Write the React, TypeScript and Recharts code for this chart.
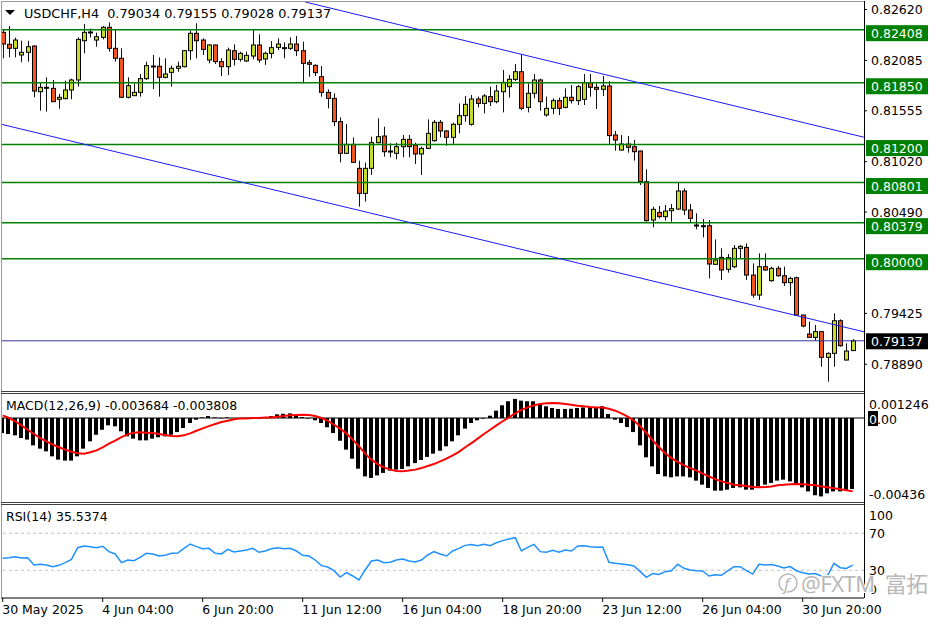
import { ComposedChart, Bar, Line, XAxis, YAxis, ReferenceLine } from "recharts";

const FONT = "'DejaVu Sans', Verdana, sans-serif";
const FS = 12.5;
const BULL = "#c8dc2c";
const BEAR = "#f2561c";
const LEVEL_GREEN = "#008000";
const BID_COLOR = "#31379b";
const TREND_BLUE = "#1a1aff";

// USDCHF H4, one entry per bar
const opens = [
  0.8238, 0.82254, 0.82212, 0.82142, 0.8217, 0.82236, 0.81756, 0.81802, 0.81791, 0.81676,
  0.81683, 0.81774, 0.81879, 0.82292, 0.8238, 0.82299, 0.82327, 0.82433, 0.82212, 0.82107,
  0.81697, 0.81714, 0.81749, 0.81893, 0.82023, 0.82023, 0.81907, 0.81959, 0.82002, 0.82019,
  0.82187, 0.8237, 0.82299, 0.82089, 0.82247, 0.82072, 0.82019, 0.82187, 0.82096, 0.82079,
  0.82131, 0.82247, 0.821, 0.82159, 0.82222, 0.82219, 0.82212, 0.82257, 0.82187, 0.82061,
  0.82033, 0.81914, 0.81749, 0.81686, 0.81441, 0.81108, 0.81202, 0.8095, 0.80687, 0.8095,
  0.8122, 0.8129, 0.81132, 0.81108, 0.81178, 0.81255, 0.81195, 0.81101, 0.8116, 0.81241,
  0.81434, 0.81343, 0.81276, 0.81413, 0.81504, 0.81413, 0.81679, 0.81633, 0.81704, 0.81651,
  0.81756, 0.81809, 0.81886, 0.81966, 0.81591, 0.81739, 0.81879, 0.81511, 0.81581, 0.81662,
  0.81591, 0.81697, 0.81662, 0.81676, 0.81851, 0.81802, 0.81781, 0.81816, 0.81301, 0.81143,
  0.81206, 0.81178, 0.81132, 0.8081, 0.80407, 0.80487, 0.80442, 0.80505, 0.80522, 0.80712,
  0.80512, 0.80354, 0.80347, 0.80347, 0.79941, 0.80014, 0.79888, 0.79916, 0.80109, 0.80119,
  0.79828, 0.79618, 0.79916, 0.79769, 0.79899, 0.79821, 0.79748, 0.798, 0.79408, 0.79208,
  0.79173, 0.79233, 0.78963, 0.79005, 0.79348, 0.78935, 0.79034,
];
const highs = [
  0.82405, 0.82447, 0.82324, 0.82292, 0.82292, 0.82243, 0.81854, 0.81907, 0.81879, 0.81732,
  0.81872, 0.81893, 0.82327, 0.82468, 0.82419, 0.82377, 0.82447, 0.82485, 0.82405, 0.82212,
  0.81907, 0.81844, 0.81942, 0.82072, 0.82142, 0.82117, 0.82107, 0.8203, 0.82072, 0.82194,
  0.82398, 0.82475, 0.82317, 0.82257, 0.8225, 0.82107, 0.82219, 0.82254, 0.82177, 0.82177,
  0.82412, 0.82359, 0.82177, 0.82289, 0.82317, 0.82275, 0.82327, 0.82342, 0.82282, 0.82089,
  0.82044, 0.82026, 0.81781, 0.81739, 0.81486, 0.81416, 0.81276, 0.81031, 0.8101, 0.81283,
  0.81476, 0.81388, 0.81213, 0.8122, 0.81301, 0.81301, 0.8122, 0.81178, 0.81465, 0.81458,
  0.81458, 0.81353, 0.8143, 0.81633, 0.81711, 0.81721, 0.81704, 0.81732, 0.81809, 0.81826,
  0.81984, 0.81931, 0.82047, 0.82149, 0.81844, 0.81942, 0.81893, 0.81704, 0.81686, 0.81693,
  0.81791, 0.81826, 0.81826, 0.81942, 0.81942, 0.81844, 0.81921, 0.81868, 0.81343, 0.81301,
  0.8129, 0.81248, 0.81136, 0.8094, 0.80547, 0.80554, 0.80564, 0.80575, 0.80799, 0.8074,
  0.80575, 0.80477, 0.80417, 0.80407, 0.80203, 0.80109, 0.80049, 0.80144, 0.80144, 0.80161,
  0.79951, 0.80056, 0.80056, 0.79916, 0.79923, 0.79916, 0.79811, 0.79811, 0.7941, 0.79338,
  0.79303, 0.7924, 0.79015, 0.79425, 0.79362, 0.7911, 0.79155,
];
const lows = [
  0.82107, 0.82117, 0.82117, 0.82065, 0.82072, 0.81697, 0.81556, 0.81546, 0.81648, 0.81577,
  0.81676, 0.81676, 0.81809, 0.82159, 0.82327, 0.82229, 0.82306, 0.82177, 0.82072, 0.81693,
  0.81686, 0.81711, 0.81704, 0.81879, 0.81784, 0.81704, 0.81896, 0.81809, 0.81966, 0.82012,
  0.82089, 0.82107, 0.82142, 0.82054, 0.82047, 0.81921, 0.81931, 0.8203, 0.82072, 0.82068,
  0.82096, 0.82061, 0.82037, 0.82107, 0.82194, 0.82107, 0.82194, 0.82131, 0.81844, 0.81914,
  0.81921, 0.81704, 0.81581, 0.81395, 0.81013, 0.81101, 0.8101, 0.80547, 0.806, 0.8088,
  0.81213, 0.81073, 0.81066, 0.81045, 0.81066, 0.81066, 0.80996, 0.8088, 0.81153, 0.8123,
  0.81276, 0.81188, 0.81206, 0.81318, 0.81441, 0.81399, 0.81591, 0.81528, 0.81605, 0.81633,
  0.81539, 0.81693, 0.81868, 0.81563, 0.81539, 0.81686, 0.81556, 0.81493, 0.81521, 0.81511,
  0.81581, 0.81633, 0.81616, 0.81616, 0.81704, 0.81574, 0.81711, 0.81206, 0.81136, 0.81136,
  0.81115, 0.81031, 0.80775, 0.80389, 0.8033, 0.80424, 0.804, 0.80389, 0.80512, 0.80459,
  0.80382, 0.80309, 0.80224, 0.79793, 0.79934, 0.79776, 0.79853, 0.79899, 0.80004, 0.79776,
  0.7959, 0.79566, 0.79874, 0.79758, 0.79811, 0.79713, 0.79611, 0.79397, 0.79278, 0.79169,
  0.79138, 0.78865, 0.78707, 0.78865, 0.79075, 0.78928, 0.79028,
];
const closes = [
  0.82257, 0.82212, 0.82299, 0.8217, 0.82229, 0.81763, 0.81802, 0.81795, 0.81651, 0.81697,
  0.81774, 0.81879, 0.82306, 0.8238, 0.82384, 0.82334, 0.82433, 0.82212, 0.82107, 0.81697,
  0.81819, 0.81749, 0.81893, 0.8203, 0.82026, 0.81907, 0.81942, 0.82002, 0.82023, 0.82187,
  0.8237, 0.82292, 0.82201, 0.82247, 0.82072, 0.82019, 0.82194, 0.82096, 0.82159, 0.82138,
  0.82247, 0.82089, 0.82159, 0.82219, 0.82257, 0.82215, 0.82257, 0.82187, 0.82054, 0.82044,
  0.81956, 0.81749, 0.81686, 0.81441, 0.81108, 0.81202, 0.81013, 0.80687, 0.8095, 0.8122,
  0.81283, 0.81125, 0.81129, 0.81178, 0.81255, 0.81178, 0.81101, 0.8116, 0.81318, 0.81434,
  0.81343, 0.81276, 0.81413, 0.81504, 0.81623, 0.81679, 0.81633, 0.81711, 0.81651, 0.81763,
  0.81854, 0.81886, 0.81966, 0.81581, 0.81739, 0.81879, 0.81651, 0.81581, 0.81662, 0.81581,
  0.81697, 0.81662, 0.81809, 0.81851, 0.81802, 0.81781, 0.81816, 0.81294, 0.81248, 0.81206,
  0.81171, 0.81125, 0.8081, 0.804, 0.80519, 0.80442, 0.80501, 0.80526, 0.80712, 0.80512,
  0.80424, 0.80347, 0.80344, 0.79944, 0.79986, 0.79881, 0.80011, 0.80109, 0.8013, 0.79828,
  0.79618, 0.79916, 0.79881, 0.79899, 0.79821, 0.79748, 0.79793, 0.79408, 0.79292, 0.79173,
  0.79233, 0.78963, 0.79005, 0.79348, 0.79085, 0.79029, 0.79137,
];

// MACD(12,26,9): main (histogram) and signal
const macdMain = [
  -0.00078, -0.00083, -0.0009, -0.00104, -0.00112, -0.00142, -0.00159, -0.00173, -0.00199, -0.00216,
  -0.00221, -0.00221, -0.00199, -0.00159, -0.00121, -0.00087, -0.00061, -0.00038, -0.00043, -0.00069,
  -0.00095, -0.00107, -0.00116, -0.00116, -0.00107, -0.001, -0.00095, -0.00087, -0.00073, -0.00052,
  -0.00026, -0.00009, 0.00003, 0.0001, 0.00003, -0.00002, 0.00003, -0.00001, -0.00002, 0.00001,
  0.00005, 0.00002, 0.00003, 0.0001, 0.00019, 0.00022, 0.00024, 0.00019, 0.00005, -0.00003,
  -0.00012, -0.00026, -0.00048, -0.00078, -0.00118, -0.00164, -0.00211, -0.00263, -0.00303, -0.00311,
  -0.00298, -0.00285, -0.00273, -0.00268, -0.00265, -0.00251, -0.00234, -0.00218, -0.00202, -0.00185,
  -0.0017, -0.00147, -0.00121, -0.0009, -0.00055, -0.00026, -0.00012, -0.00003, 0.00012, 0.00038,
  0.00066, 0.00087, 0.00099, 0.0009, 0.00087, 0.00087, 0.00073, 0.00061, 0.00052, 0.00047,
  0.00047, 0.00048, 0.00052, 0.00055, 0.00055, 0.00057, 0.00061, 0.00021, -0.00009, -0.00026,
  -0.00047, -0.00073, -0.00142, -0.00204, -0.00251, -0.00291, -0.00303, -0.00308, -0.00303, -0.00303,
  -0.00308, -0.00325, -0.00346, -0.00363, -0.00377, -0.00377, -0.00372, -0.00363, -0.0036, -0.00372,
  -0.00372, -0.00355, -0.00346, -0.00337, -0.00325, -0.0032, -0.00329, -0.00346, -0.0036, -0.00381,
  -0.00401, -0.00407, -0.00391, -0.00381, -0.00381, -0.00377, -0.003684,
];
const macdSignal = [
  0.00014, 0, -0.00017, -0.00038, -0.00061, -0.00083, -0.00104, -0.00121, -0.00138, -0.00152,
  -0.00164, -0.00175, -0.00183, -0.00185, -0.00178, -0.00168, -0.00152, -0.00133, -0.00118, -0.00099,
  -0.00085, -0.00076, -0.00074, -0.00076, -0.00078, -0.00083, -0.00088, -0.00093, -0.00095, -0.0009,
  -0.0008, -0.00066, -0.00054, -0.00042, -0.00031, -0.00021, -0.00014, -0.00007, -0.00003, -0.00002,
  0, 0, 0.00002, 0.00003, 0.00007, 0.0001, 0.00014, 0.00016, 0.00017, 0.00016,
  0.0001, 0, -0.00014, -0.00035, -0.00055, -0.00081, -0.00112, -0.00147, -0.00185, -0.00216,
  -0.00239, -0.00256, -0.00268, -0.00275, -0.00277, -0.00273, -0.00268, -0.0026, -0.00249, -0.00239,
  -0.00225, -0.00211, -0.00194, -0.00176, -0.00152, -0.0013, -0.00107, -0.00083, -0.00061, -0.00038,
  -0.00017, 0.00003, 0.00024, 0.00042, 0.00055, 0.00066, 0.00073, 0.00076, 0.00078, 0.00076,
  0.00073, 0.00069, 0.00064, 0.00061, 0.00057, 0.00055, 0.00055, 0.00048, 0.00038, 0.00024,
  0.00007, -0.00014, -0.00043, -0.00078, -0.00116, -0.00152, -0.00183, -0.00208, -0.00228, -0.00246,
  -0.0026, -0.00273, -0.00289, -0.00303, -0.00317, -0.00329, -0.00337, -0.00346, -0.00349, -0.00353,
  -0.00358, -0.0036, -0.00358, -0.00355, -0.00349, -0.00346, -0.00344, -0.00343, -0.00344, -0.00346,
  -0.00349, -0.00355, -0.0036, -0.00365, -0.0037, -0.00375, -0.003808,
];

// RSI(14)
const rsiValues = [
  42.9, 43.6, 44.7, 43.2, 43.6, 35.7, 36.4, 35.7, 33.9, 35.3,
  38.2, 41.8, 54.4, 56.2, 55.5, 54.4, 55.9, 50.1, 47.6, 38.2,
  41.1, 40.4, 44.0, 48.3, 47.6, 45.4, 46.1, 48.3, 48.6, 53.7,
  58.4, 55.5, 53.3, 53.7, 48.3, 47.6, 52.6, 49.7, 50.8, 51.9,
  53.7, 49.4, 50.8, 53.3, 54.4, 53.3, 53.7, 50.8, 46.1, 45.4,
  41.1, 35.0, 33.5, 29.5, 22.7, 27.4, 23.8, 19.5, 30.3, 40.0,
  41.0, 38.2, 38.6, 41.1, 42.2, 40.0, 38.9, 41.1, 46.5, 50.1,
  47.6, 45.4, 50.8, 53.7, 56.9, 57.8, 56.6, 58.0, 56.6, 59.8,
  62.0, 63.8, 65.2, 50.8, 54.8, 58.0, 50.1, 49.4, 51.5, 49.5,
  51.9, 50.8, 56.2, 56.6, 55.5, 54.8, 55.1, 38.6, 37.5, 36.8,
  36.0, 34.6, 28.5, 22.3, 26.5, 25.5, 28.5, 29.5, 36.4, 32.1,
  30.3, 29.5, 29.2, 23.8, 25.2, 24.5, 29.2, 33.9, 33.9, 29.5,
  25.9, 36.4, 35.8, 36.2, 34.6, 32.5, 34.0, 29.5, 27.4, 25.9,
  26.5, 23.8, 24.5, 37.5, 32.8, 32.0, 35.5374,
];

const tickBars = [0, 16, 32, 48, 64, 80, 96, 112, 128];
const tickLabels = [
  "30 May 2025", "4 Jun 04:00", "6 Jun 20:00", "11 Jun 12:00", "16 Jun 04:00",
  "18 Jun 20:00", "23 Jun 12:00", "26 Jun 04:00", "30 Jun 20:00",
];
const priceTicks = [0.8262, 0.82085, 0.81555, 0.8102, 0.8049, 0.79425, 0.7889];
const levelPrices = [0.82408, 0.8185, 0.812, 0.80801, 0.80379, 0.8];
const bidPrice = 0.79137;
const channelUpper = [{ bar: 48.4, price: 0.82699 }, { bar: 137.81, price: 0.81277 }];
const channelLower = [{ bar: -0.27, price: 0.81414 }, { bar: 137.81, price: 0.79231 }];
const macdTicks = [0.001246, 0, -0.00436];
const rsiTicks = [100, 70, 30, 0];

const rows = closes.map((c, i) => ({
  i,
  o: opens[i],
  h: highs[i],
  l: lows[i],
  c,
  macd: macdMain[i],
  signal: macdSignal[i],
  rsi: rsiValues[i],
}));

const X_DOMAIN: [number, number] = [-0.272, 137.81];
const PRICE_DOMAIN: [number, number] = [0.78609, 0.82699];
const MACD_DOMAIN: [number, number] = [-0.00436, 0.001246];

function Candle(props: any) {
  const { x, y, width, height, payload } = props;
  if (!payload || !Number.isFinite(y) || !Number.isFinite(height)) return null;
  const { o, h, l, c } = payload;
  const k = height / (h - l);
  const py = (p: number) => y + (h - p) * k;
  const n = Math.round(x + width / 2 - 0.5);
  const top = py(Math.max(o, c));
  const body = Math.max(py(Math.min(o, c)) - top, 1);
  return (
    <g>
      <rect x={n} y={y} width={1} height={height} fill="#111" />
      <rect x={n - 2} y={top - 0.5} width={5} height={body + 1} fill="#000" />
      {body > 1.5 && (
        <rect x={n - 1} y={top + 0.5} width={3} height={body - 1} fill={c >= o ? BULL : BEAR} />
      )}
    </g>
  );
}

function HistBar(props: any) {
  const { x, y, width, height } = props;
  if (!Number.isFinite(y) || !Number.isFinite(height)) return null;
  const n = Math.round(x + width / 2 - 0.5);
  return (
    <rect x={n - 2} y={Math.min(y, y + height)} width={4} height={Math.abs(height)} fill="#000" />
  );
}

function PriceTag({ viewBox, text, bg, dy }: any) {
  if (!viewBox) return null;
  const x = viewBox.x + viewBox.width + 2;
  const y = viewBox.y + dy;
  return (
    <g>
      <rect x={x} y={y - 8} width={62} height={16} fill={bg} />
      <text x={x + 5} y={y} dy="0.36em" fill="#fff" fontFamily={FONT} fontSize={FS}>
        {text}
      </text>
    </g>
  );
}

function MacdTick({ x, y, payload }: any) {
  const v = payload.value;
  if (v === 0) {
    return (
      <g>
        <rect x={x - 3} y={y - 7} width={10} height={15} fill="#000" />
        <text x={x - 2} y={y + 1} dy="0.36em" fontFamily={FONT} fontSize={FS} fill="#000">
          <tspan fill="#fff">0</tspan>.00
        </text>
      </g>
    );
  }
  const shift = v > 0 ? 10 : -8;
  return (
    <text x={x - 2} y={y + shift} dy="0.36em" fontFamily={FONT} fontSize={FS} fill="#000">
      {v.toFixed(v > 0 ? 6 : 5)}
    </text>
  );
}

function RsiTick({ x, y, payload }: any) {
  const v = payload.value;
  const shift = v === 100 ? 9.5 : v === 0 ? -8.5 : 0;
  return (
    <text x={x - 2} y={y + shift} dy="0.36em" fontFamily={FONT} fontSize={FS} fill="#000">
      {v}
    </text>
  );
}

function TimeTick({ x, y, payload }: any) {
  const idx = tickBars.indexOf(payload.value);
  return (
    <text x={x - 0.5} y={y + 10} fontFamily={FONT} fontSize={FS} fill="#000">
      {tickLabels[idx]}
    </text>
  );
}

const xAxisHidden = (
  <XAxis type="number" dataKey="i" domain={X_DOMAIN} allowDataOverflow hide />
);

export default function App() {
  const last = closes.length - 1;
  const title = `USDCHF,H4  ${opens[last].toFixed(5)} ${highs[last].toFixed(5)} ${lows[last].toFixed(5)} ${closes[last].toFixed(5)}`;
  const macdTitle = `MACD(12,26,9) ${macdMain[last].toFixed(6)} ${macdSignal[last].toFixed(6)}`;
  const rsiTitle = `RSI(14) ${rsiValues[last].toFixed(4)}`;

  return (
    <div style={{ position: "relative", width: 936, height: 624, background: "#fff", overflow: "hidden" }}>
      <style>{"body{margin:0;background:#fff}"}</style>

      <div style={{ position: "absolute", left: 0, top: 0 }}>
        <ComposedChart width={936} height={392} data={rows} margin={{ top: 2, right: 0, bottom: 1, left: 1 }}>
          {xAxisHidden}
          <YAxis
            orientation="right"
            width={72}
            domain={PRICE_DOMAIN}
            allowDataOverflow
            ticks={priceTicks}
            interval={0}
            tickFormatter={(v: number) => v.toFixed(5)}
            tick={{ fill: "#000", fontSize: FS, fontFamily: FONT }}
            tickSize={3}
            tickMargin={4}
            axisLine={false}
            tickLine={{ stroke: "#000" }}
          />
          {levelPrices.map((p) => (
            <ReferenceLine
              key={p}
              y={p}
              stroke={LEVEL_GREEN}
              strokeWidth={1.5}
              label={<PriceTag text={p.toFixed(5)} bg={LEVEL_GREEN} dy={3.5} />}
            />
          ))}
          <ReferenceLine
            y={bidPrice}
            stroke={BID_COLOR}
            strokeWidth={1}
            label={<PriceTag text={bidPrice.toFixed(5)} bg="#000" dy={0.5} />}
          />
          <ReferenceLine
            segment={channelUpper.map((p) => ({ x: p.bar, y: p.price }))}
            stroke={TREND_BLUE}
            strokeWidth={1}
            ifOverflow="hidden"
          />
          <ReferenceLine
            segment={channelLower.map((p) => ({ x: p.bar, y: p.price }))}
            stroke={TREND_BLUE}
            strokeWidth={1}
            ifOverflow="hidden"
          />
          <Bar
            dataKey={(d: any) => [d.l, d.h]}
            shape={<Candle />}
            barSize={5}
            isAnimationActive={false}
          />
        </ComposedChart>
      </div>

      <div style={{ position: "absolute", left: 0, top: 392 }}>
        <ComposedChart width={936} height={112} data={rows} margin={{ top: 2, right: 0, bottom: 2, left: 1 }}>
          {xAxisHidden}
          <YAxis
            orientation="right"
            width={72}
            domain={MACD_DOMAIN}
            allowDataOverflow
            ticks={macdTicks}
            interval={0}
            tick={<MacdTick />}
            tickSize={3}
            tickMargin={4}
            axisLine={false}
            tickLine={false}
          />
          <ReferenceLine y={0} stroke="#000" strokeWidth={1} />
          <Bar dataKey="macd" shape={<HistBar />} barSize={4} isAnimationActive={false} />
          <Line
            dataKey="signal"
            type="linear"
            stroke="#ff0000"
            strokeWidth={2}
            dot={false}
            isAnimationActive={false}
          />
        </ComposedChart>
      </div>

      <div style={{ position: "absolute", left: 0, top: 504 }}>
        <ComposedChart width={936} height={120} data={rows} margin={{ top: 1.5, right: 0, bottom: 0, left: 1 }}>
          <XAxis
            type="number"
            dataKey="i"
            domain={X_DOMAIN}
            allowDataOverflow
            ticks={tickBars}
            interval={0}
            height={26}
            tick={<TimeTick />}
            tickSize={4}
            tickMargin={2}
            axisLine={{ stroke: "#000" }}
            tickLine={{ stroke: "#000" }}
          />
          <YAxis
            orientation="right"
            width={72}
            domain={[0, 100]}
            allowDataOverflow
            ticks={rsiTicks}
            interval={0}
            tick={<RsiTick />}
            tickSize={3}
            tickMargin={4}
            axisLine={false}
            tickLine={false}
          />
          <ReferenceLine y={70} stroke="#c0c0c0" strokeDasharray="3 3" />
          <ReferenceLine y={30} stroke="#c0c0c0" strokeDasharray="3 3" />
          <Line
            dataKey="rsi"
            type="linear"
            stroke="#1e90ff"
            strokeWidth={1.5}
            dot={false}
            isAnimationActive={false}
          />
        </ComposedChart>
      </div>

      <svg
        width={936}
        height={624}
        style={{ position: "absolute", left: 0, top: 0, pointerEvents: "none" }}
        fontFamily={FONT}
        fontSize={FS}
      >
        <line x1={1} y1={1.5} x2={864} y2={1.5} stroke="#9a9a9a" />
        <line x1={1.5} y1={1} x2={1.5} y2={598} stroke="#9a9a9a" />
        <line x1={1} y1={391.5} x2={864} y2={391.5} stroke="#404040" />
        <line x1={1} y1={393.5} x2={864} y2={393.5} stroke="#404040" />
        <line x1={1} y1={502.5} x2={864} y2={502.5} stroke="#404040" />
        <line x1={1} y1={504.5} x2={864} y2={504.5} stroke="#404040" />
        <line x1={864.5} y1={1} x2={864.5} y2={598} stroke="#000" />

        <polygon points="5,10 15,10 10,15" fill="#000" />
        <text x={24} y={18} fill="#000" style={{ whiteSpace: "pre" }} fontSize={12.8}>{title}</text>
        <text x={6} y={409.5} fill="#000">{macdTitle}</text>
        <text x={6} y={521} fill="#000">{rsiTitle}</text>

        <g fill="#b8b8b8" stroke="#fff" strokeWidth={2} paintOrder="stroke">
          <circle cx={788} cy={583} r={9} fill="none" stroke="#b8b8b8" strokeWidth={1.5} />
          <text x={784} y={590} fontFamily="'Noto Sans', sans-serif" fontSize={17} fontStyle="italic">f</text>
          <text x={801} y={592} fontFamily="'Noto Sans', 'Noto Sans CJK SC', sans-serif" fontSize={22} letterSpacing={-0.5}>
            @FXTM<tspan dx={10}>富拓</tspan>
          </text>
        </g>
      </svg>
    </div>
  );
}
